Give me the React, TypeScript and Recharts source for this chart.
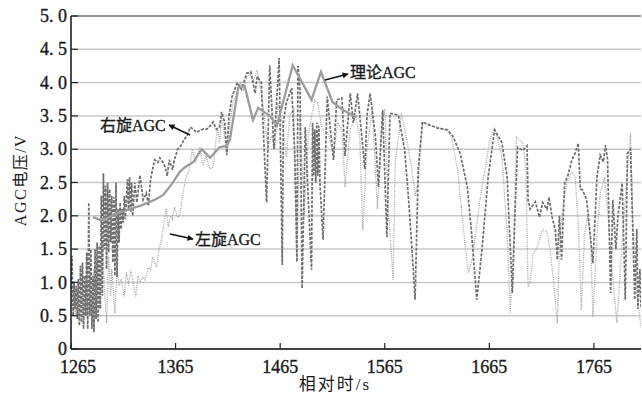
import React from 'react';
import { LineChart, Line, XAxis, YAxis, CartesianGrid, ReferenceLine } from 'recharts';

// ---- tick labels ----
const xTicks = [1265, 1365, 1465, 1565, 1665, 1765];
const yTicks = [0, 0.5, 1, 1.5, 2, 2.5, 3, 3.5, 4, 4.5, 5];

// ---- 理论AGC (solid) ----
const theoryT = [
  1286, 1293, 1300, 1310, 1319, 1333, 1345, 1353, 1362, 1369,
  1374, 1382, 1390, 1398, 1407, 1414, 1417, 1425, 1431, 1439,
  1444, 1455, 1462, 1477, 1495, 1504, 1515, 1525, 1538,
];
const theoryV = [
  1.98, 1.94, 1.97, 2.04, 2.09, 2.16, 2.24, 2.31, 2.49, 2.66,
  2.73, 2.81, 3.0, 2.87, 3.03, 3.05, 3.15, 3.93, 3.95, 3.44,
  3.62, 3.5, 3.36, 4.26, 3.74, 4.16, 3.71, 3.59, 3.48,
];

// ---- 右旋AGC (dashed) ----
const rightT = [
  1265, 1266, 1267, 1268, 1269, 1270, 1271, 1272, 1273, 1274,
  1275, 1276, 1277, 1278, 1279, 1280, 1281, 1282, 1283, 1284,
  1285, 1286, 1287, 1288, 1289, 1290, 1291, 1292, 1293, 1294,
  1295, 1296, 1297, 1298, 1299, 1300, 1301, 1302, 1303, 1304,
  1305, 1306, 1307, 1308, 1309, 1310, 1311, 1312, 1313, 1314,
  1315, 1316, 1317, 1319, 1320, 1321, 1322, 1323, 1324, 1326,
  1328, 1331, 1334, 1337, 1339, 1341, 1343, 1345, 1348, 1350,
  1353, 1355, 1357, 1359, 1362, 1364, 1367, 1370, 1373, 1376,
  1379, 1382, 1385, 1388, 1391, 1395, 1398, 1401, 1404, 1407,
  1409, 1412, 1414, 1416, 1419, 1424, 1428, 1433, 1437, 1441,
  1443, 1447, 1448, 1452, 1455, 1459, 1464, 1467, 1468, 1471,
  1476, 1479, 1481, 1482, 1484, 1486, 1489, 1492, 1495, 1496,
  1497, 1498, 1499, 1500, 1501, 1502, 1503, 1506, 1510, 1513,
  1516, 1519, 1524, 1527, 1532, 1535, 1539, 1543, 1546, 1548,
  1551, 1556, 1559, 1563, 1567, 1570, 1578, 1584, 1588, 1591,
  1594, 1597, 1601, 1605, 1615, 1625, 1630, 1637, 1644, 1648,
  1653, 1658, 1664, 1670, 1677, 1682, 1687, 1690, 1692, 1697,
  1701, 1702, 1704, 1709, 1713, 1716, 1720, 1722, 1725, 1728,
  1730, 1732, 1734, 1737, 1740, 1744, 1747, 1750, 1752, 1754,
  1758, 1761, 1764, 1768, 1771, 1774, 1776, 1778, 1781, 1783,
  1786, 1788, 1792, 1795, 1797, 1800, 1802, 1804, 1806, 1807,
  1809, 1810,
];
const rightV = [
  0.9, 1.4, 0.5, 1.0, 0.6, 0.95, 0.45, 1.05, 0.35, 1.25,
  0.4, 1.3, 0.3, 1.1, 0.5, 1.45, 0.3, 2.2, 0.5, 1.5,
  0.3, 1.1, 0.25, 1.5, 0.45, 1.6, 0.4, 1.55, 0.6, 2.3,
  0.8, 2.64, 1.5, 2.45, 1.2, 2.5, 1.45, 2.4, 1.6, 2.3,
  1.3, 2.28, 1.1, 2.5, 1.08, 2.1, 1.6, 2.2, 1.8, 2.1,
  1.9, 2.3, 1.95, 2.55, 2.1, 2.58, 2.05, 2.5, 2.0, 2.5,
  2.2, 2.61, 2.24, 2.34, 2.15, 2.54, 2.7, 2.84, 2.8, 2.87,
  2.8, 2.73, 2.6, 2.84, 2.69, 2.85, 3.0, 3.05, 3.14, 3.2,
  3.33, 3.3, 3.25, 3.28, 3.3, 3.3, 3.35, 3.41, 3.3, 3.33,
  3.56, 3.4, 2.91, 3.5, 3.79, 4.0, 3.9, 4.14, 4.16, 3.84,
  4.09, 4.0, 3.6, 2.2, 4.26, 3.0, 4.37, 1.26, 3.4, 3.7,
  3.92, 2.9, 1.31, 4.25, 3.9, 0.91, 3.33, 2.2, 1.19, 3.4,
  2.6, 3.3, 2.5, 3.4, 2.6, 3.35, 2.5, 1.64, 3.79, 3.3,
  2.84, 3.74, 3.77, 2.9, 3.84, 3.4, 3.84, 3.2, 2.7, 3.5,
  3.84, 3.2, 2.43, 3.59, 1.68, 3.54, 3.51, 3.0, 2.2, 1.5,
  0.74, 2.7, 3.41, 3.38, 3.32, 3.29, 3.2, 2.94, 2.43, 1.74,
  0.74, 1.5, 2.6, 3.29, 3.1, 2.58, 0.84, 2.24, 3.03, 2.98,
  3.05, 2.24, 2.1, 2.21, 1.98, 2.2, 2.1, 2.28, 1.98, 1.79,
  1.34, 2.0, 1.34, 2.49, 2.6, 2.84, 2.94, 3.09, 2.4, 2.39,
  2.24, 1.79, 1.29, 2.6, 2.91, 2.81, 3.06, 2.85, 0.84, 2.24,
  1.5, 2.0, 2.49, 0.74, 2.94, 3.0, 1.88, 0.74, 1.8, 0.6,
  1.2, 0.63,
];

// ---- 左旋AGC (dotted) ----
const leftT = [
  1265, 1267, 1269, 1271, 1273, 1275, 1277, 1279, 1281, 1283,
  1285, 1287, 1289, 1291, 1293, 1295, 1297, 1299, 1301, 1303,
  1304, 1307, 1309, 1311, 1313, 1316, 1318, 1320, 1322, 1324,
  1327, 1329, 1331, 1334, 1336, 1339, 1341, 1343, 1345, 1347,
  1349, 1351, 1354, 1356, 1358, 1360, 1362, 1364, 1367, 1369,
  1372, 1375, 1378, 1381, 1384, 1388, 1391, 1394, 1398, 1401,
  1405, 1407, 1409, 1412, 1414, 1417, 1420, 1424, 1427, 1430,
  1433, 1436, 1439, 1443, 1448, 1453, 1457, 1460, 1463, 1467,
  1471, 1474, 1478, 1481, 1484, 1488, 1492, 1498, 1501, 1505,
  1511, 1516, 1520, 1524, 1527, 1532, 1537, 1541, 1544, 1548,
  1553, 1558, 1562, 1565, 1568, 1573, 1575, 1581, 1587, 1591,
  1594, 1597, 1601, 1610, 1624, 1629, 1635, 1640, 1645, 1649,
  1656, 1666, 1670, 1677, 1682, 1685, 1688, 1691, 1697, 1700,
  1702, 1704, 1707, 1710, 1713, 1716, 1720, 1723, 1726, 1730,
  1732, 1735, 1739, 1744, 1747, 1750, 1753, 1756, 1759, 1762,
  1764, 1768, 1771, 1775, 1778, 1782, 1787, 1792, 1796, 1800,
  1802, 1806, 1810,
];
const leftV = [
  0.7, 1.0, 0.5, 0.9, 0.45, 0.85, 0.35, 0.95, 0.5, 1.1,
  0.45, 1.2, 0.5, 1.35, 0.6, 1.6, 0.9, 0.39, 1.4, 0.8,
  1.2, 0.54, 1.23, 0.95, 1.05, 0.79, 1.15, 0.95, 1.18, 1.05,
  0.79, 1.1, 1.0, 1.08, 1.04, 1.22, 1.19, 1.38, 1.3, 1.23,
  1.49, 1.6, 1.9, 2.11, 1.83, 2.0, 1.95, 2.13, 1.98, 2.0,
  2.34, 2.58, 2.69, 3.0, 2.8, 3.03, 2.75, 2.9, 2.7, 2.73,
  3.33, 3.09, 3.49, 3.2, 2.94, 3.4, 3.71, 3.85, 4.0, 3.9,
  4.09, 4.14, 4.0, 4.19, 3.74, 3.03, 3.2, 3.0, 3.69, 3.4,
  2.88, 3.5, 3.6, 1.31, 3.5, 2.0, 3.24, 3.74, 3.69, 3.3,
  3.24, 2.9, 3.4, 3.3, 2.43, 3.3, 3.5, 3.2, 1.79, 3.0,
  3.6, 2.1, 3.3, 3.6, 2.2, 1.04, 2.8, 3.54, 3.05, 2.7,
  2.3, 2.5, 3.4, 3.35, 3.28, 3.18, 2.64, 1.83, 1.14, 1.38,
  2.24, 3.18, 3.32, 2.9, 1.74, 0.54, 1.5, 3.18, 3.1, 2.7,
  0.93, 1.0, 1.44, 1.5, 1.64, 1.79, 1.77, 1.5, 1.08, 0.39,
  1.5, 2.1, 2.5, 2.66, 2.58, 1.9, 0.59, 1.74, 2.0, 1.6,
  0.48, 1.74, 2.34, 2.58, 2.1, 1.24, 0.39, 1.6, 2.49, 3.24,
  2.0, 0.83, 0.33,
];

const zip = (t: number[], v: number[]) => t.map((x, i) => ({ x, y: v[i] }));
const theoryData = zip(theoryT, theoryV);
const rightData = zip(rightT, rightV);
const leftData = zip(leftT, leftV);

const FONT = "'Liberation Serif', 'Times New Roman', serif, 'Noto Sans CJK SC'";
const txt = (size: number, extra: any = {}) => ({ fontFamily: FONT, fontSize: size, ...extra });
const INK = '#1a1a1a';
const heavy = { stroke: INK, strokeWidth: 0.35 };

const YTick = (props: any) => {
  const { x, y, payload } = props;
  const v: number = payload.value;
  const label = v === 0 ? '0' : v.toFixed(1).replace('.', '. ');
  return (
    <g>
      <line x1={x + 4} x2={x + 11} y1={y} y2={y} stroke="#222" strokeWidth={1.2} />
      <text x={x} y={y} dy="0.34em" textAnchor="end" style={txt(18)} fill={INK} {...heavy}>
        {label}
      </text>
    </g>
  );
};

const XTick = (props: any) => {
  const { x, y, payload, index } = props;
  const shift = index === 0 ? 7 : 0;
  return (
    <g>
      <line x1={x} x2={x} y1={y} y2={y - 6} stroke="#222" strokeWidth={1.2} />
      <text x={x + shift} y={y + 24} textAnchor="middle" style={txt(18)} fill={INK} {...heavy}>
        {payload.value}
      </text>
    </g>
  );
};

export default function App() {
  return (
    <div style={{ position: 'absolute', left: 0, top: 0, width: 642, height: 395, background: '#fff' }}>
      <LineChart width={642} height={395} margin={{ top: 16, right: 1, left: 0, bottom: 16 }}>
        <CartesianGrid horizontal vertical={false} stroke="#c8c8c8" strokeWidth={1.5} />
        <XAxis
          type="number"
          dataKey="x"
          domain={[1265, 1810]}
          ticks={xTicks}
          allowDataOverflow
          height={30}
          tickSize={0}
          tickMargin={0}
          tickLine={false}
          axisLine={{ stroke: '#111', strokeWidth: 1.5 }}
          tick={<XTick />}
          interval={0}
        />
        <YAxis
          type="number"
          dataKey="y"
          domain={[0, 5]}
          ticks={yTicks}
          width={71}
          tickSize={0}
          tickMargin={4}
          tickLine={false}
          axisLine={{ stroke: '#111', strokeWidth: 1.5 }}
          tick={<YTick />}
          interval={0}
        />
        <ReferenceLine y={5} stroke="#555" strokeWidth={1.2} />
        <Line
          data={leftData}
          dataKey="y"
          type="linear"
          stroke="#a6a6a6"
          strokeWidth={1.3}
          strokeDasharray="1 1.2"
          dot={false}
          isAnimationActive={false}
        />
        <Line
          data={rightData}
          dataKey="y"
          type="linear"
          stroke="#6e6e6e"
          strokeWidth={1.7}
          strokeDasharray="3 1.5"
          dot={false}
          isAnimationActive={false}
        />
        <Line
          data={theoryData}
          dataKey="y"
          type="linear"
          stroke="#9c9c9c"
          strokeWidth={2.3}
          dot={false}
          isAnimationActive={false}
        />
      </LineChart>
      <svg
        width={642}
        height={395}
        style={{ position: 'absolute', left: 0, top: 0, pointerEvents: 'none' }}
      >
        <defs>
          <marker id="ah" viewBox="0 0 10 10" refX="9" refY="5" markerWidth="8" markerHeight="6" orient="auto" markerUnits="userSpaceOnUse">
            <path d="M0,0 L10,5 L0,10 Z" fill="#111" />
          </marker>
        </defs>
        <line x1={190} y1={135} x2={169} y2={125} stroke="#111" strokeWidth={1.5} markerEnd="url(#ah)" />
        <text x={100} y={131} style={txt(16)} fill={INK} {...heavy}>右旋AGC</text>
        <line x1={170} y1={234} x2={193} y2={239} stroke="#111" strokeWidth={1.5} markerEnd="url(#ah)" />
        <text x={195} y={245} style={txt(16)} fill={INK} {...heavy}>左旋AGC</text>
        <line x1={325} y1={80} x2={348} y2={74} stroke="#111" strokeWidth={1.5} markerEnd="url(#ah)" />
        <text x={350} y={78} style={txt(16)} fill={INK} {...heavy}>理论AGC</text>
        <text
          x={20}
          y={180}
          transform="rotate(-90 20 180)"
          textAnchor="middle"
          dominantBaseline="central"
          style={txt(16, { letterSpacing: 1.5 })}
          fill={INK}
        >
          AGC电压/V
        </text>
        <text x={335} y={390} textAnchor="middle" style={txt(17, { letterSpacing: 2 })} fill={INK}>
          相对时/s
        </text>
      </svg>
    </div>
  );
}
